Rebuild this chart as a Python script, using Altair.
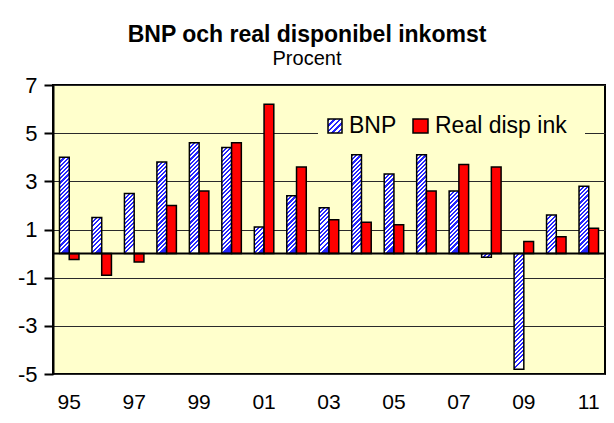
import altair as alt

# ---- data ----
years = ["95", "96", "97", "98", "99", "00", "01", "02", "03", "04",
         "05", "06", "07", "08", "09", "10", "11"]
bnp = [4.0, 1.5, 2.5, 3.8, 4.6, 4.4, 1.1, 2.4, 1.9, 4.1,
       3.3, 4.1, 2.6, -0.15, -4.8, 1.6, 2.8]
real_disp_ink = [-0.25, -0.9, -0.35, 2.0, 2.6, 4.6, 6.2, 3.6, 1.4, 1.3,
                 1.2, 2.6, 3.7, 3.6, 0.5, 0.7, 1.05]
series = ["BNP", "Real disp ink"]
x_label_years = ["95", "97", "99", "01", "03", "05", "07", "09", "11"]
y_ticks = [7, 5, 3, 1, -1, -3, -5]

# ---- layout / style ----
W, H = 552, 289
YMIN, YMAX = -5, 7
PX_PER_UNIT = H / (YMAX - YMIN)
BAR_W = W / 17 * 0.6 / 2
BLUE = "#2424ff"
WHITE = "#ffffff"
RED = "#ff0000"
BG = "#ffffcc"
FONT = "Liberation Sans"


def hatch(h_px, w_px, period=4.2):
    """diagonal '/' stripes as a hard-stop linear gradient"""
    h = max(h_px, 1.0)
    dx = w_px / h
    denom = h * (1 + dx * dx)
    half = period / denom / 2
    stops = []
    o = 0.0
    blue = True
    while o < 1.0:
        c = BLUE if blue else WHITE
        o2 = min(o + half, 1.0)
        stops.append({"offset": o, "color": c})
        stops.append({"offset": o2, "color": c})
        o = o2
        blue = not blue
    return {"gradient": "linear", "x1": 0, "y1": 0, "x2": dx, "y2": 1, "stops": stops}


rows = []
for y, b, r in zip(years, bnp, real_disp_ink):
    rows.append({"year": y, "series": series[0], "value": b,
                 "fill": hatch(abs(b) * PX_PER_UNIT, BAR_W)})
    rows.append({"year": y, "series": series[1], "value": r, "fill": RED})

bars = alt.Chart(alt.Data(values=rows)).mark_bar(
    stroke="black", strokeWidth=1.5
).encode(
    x=alt.X("year:N", sort=years,
            scale=alt.Scale(paddingInner=0.4, paddingOuter=0.2),
            axis=alt.Axis(values=x_label_years, labelAngle=0, ticks=False,
                          domain=False, grid=False, labelFontSize=21,
                          labelPadding=17, labelColor="black", title=None,
                          labelFont=FONT)),
    xOffset=alt.XOffset("series:N", sort=series,
                        scale=alt.Scale(paddingInner=0, paddingOuter=0)),
    y=alt.Y("value:Q",
            scale=alt.Scale(domain=[YMIN, YMAX], nice=False, zero=False),
            axis=alt.Axis(values=y_ticks, grid=True, gridColor="#2a2a2a",
                          gridWidth=1, tickSize=9, tickWidth=2,
                          tickColor="black", domain=True, domainWidth=2,
                          domainColor="black", labelFontSize=22,
                          labelPadding=7, labelColor="black", title=None,
                          labelFont=FONT, labelExpr="datum.value + ''")),
    fill=alt.Fill("fill:N", scale=None),
)

one = alt.Data(values=[{"k": 0}])

zero_line = alt.Chart(one).mark_rule(color="black", strokeWidth=2).encode(
    y=alt.datum(0)
)

legend_bg = alt.Chart(one).mark_rect(fill=BG).encode(
    x=alt.value(265), x2=alt.value(532), y=alt.value(24), y2=alt.value(58)
)
legend_sq1 = alt.Chart(one).mark_rect(
    stroke="black", strokeWidth=1.5, fill=hatch(14, 14, period=5.5)
).encode(x=alt.value(275), x2=alt.value(289), y=alt.value(34), y2=alt.value(48))
legend_sq2 = alt.Chart(one).mark_rect(
    stroke="black", strokeWidth=1.5, fill=RED
).encode(x=alt.value(360), x2=alt.value(375), y=alt.value(34), y2=alt.value(48))
legend_t1 = alt.Chart(one).mark_text(
    align="left", baseline="alphabetic", fontSize=23, font=FONT, color="black"
).encode(x=alt.value(296), y=alt.value(48), text=alt.value(series[0]))
legend_t2 = alt.Chart(one).mark_text(
    align="left", baseline="alphabetic", fontSize=23, font=FONT, color="black"
).encode(x=alt.value(382), y=alt.value(48), text=alt.value(series[1]))

chart = alt.layer(
    bars, zero_line, legend_bg, legend_sq1, legend_sq2, legend_t1, legend_t2
).properties(
    width=W, height=H,
    padding={"left": 45, "top": 77, "right": 1, "bottom": 41},
    autosize=alt.AutoSizeParams(type="none"),
    title=alt.TitleParams(
        "BNP och real disponibel inkomst", subtitle="Procent",
        fontSize=23, fontWeight="bold", font=FONT, color="black",
        subtitleFontSize=20, subtitleFont=FONT, subtitleColor="black",
        subtitlePadding=2, anchor="middle", dx=-22, offset=5,
    ),
).configure(
    font=FONT, background="white",
    view=alt.ViewConfig(fill=BG, stroke="black", strokeWidth=2),
)

chart.save("out.html", embed_options={"renderer": "svg", "actions": False})
